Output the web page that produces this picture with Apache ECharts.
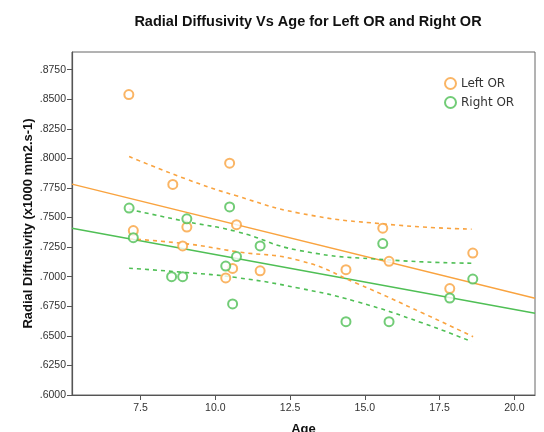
<!DOCTYPE html>
<html>
<head>
    <meta charset="utf-8">
    <script src="https://cdn.jsdelivr.net/npm/echarts@6/dist/echarts.min.js"></script>
</head>
<body style="margin:0">
<div id="main" style="width: 544px;height:432px;"></div>
<script type="text/javascript">
    // points: [age, radial diffusivity]
    var leftOR = [
        [7.11, 0.854], [7.26, 0.739], [8.58, 0.778], [8.91, 0.726], [9.05, 0.742],
        [10.35, 0.699], [10.48, 0.796], [10.58, 0.707], [10.71, 0.744], [11.50, 0.705],
        [14.37, 0.706], [15.60, 0.741], [15.81, 0.713], [17.84, 0.690], [18.61, 0.720]
    ];
    var rightOR = [
        [7.12, 0.758], [7.26, 0.733], [8.54, 0.700], [8.91, 0.700], [9.05, 0.749],
        [10.35, 0.709], [10.48, 0.759], [10.58, 0.677], [10.71, 0.717], [11.50, 0.726],
        [14.37, 0.662], [15.60, 0.728], [15.81, 0.662], [17.84, 0.682], [18.61, 0.698]
    ];

    // fit lines (ends at axis edges)
    var leftFit = [[5.21, 0.7783], [20.69, 0.6818]];
    var rightFit = [[5.21, 0.7410], [20.69, 0.6691]];

    // 95% bands (dashed)
    var leftUpper = [[7.12, 0.8016], [9.04, 0.7825], [10.71, 0.7684], [12.83, 0.7537], [15.72, 0.7444], [18.57, 0.7402]];
    var leftLower = [[7.12, 0.7320], [9.04, 0.7278], [10.71, 0.7212], [12.83, 0.7136], [14.72, 0.6945], [16.95, 0.6691], [18.62, 0.6493]];
    var rightUpper = [[7.12, 0.7570], [9.04, 0.7466], [10.71, 0.7382], [12.83, 0.7221], [15.83, 0.7142], [18.62, 0.7114]];
    var rightLower = [[7.12, 0.7072], [9.04, 0.7035], [10.71, 0.6993], [12.83, 0.6902], [14.72, 0.6790], [16.95, 0.6607], [18.57, 0.6451]];

    var xTicks = [7.5, 10.0, 12.5, 15.0, 17.5, 20.0];
    var yTicks = [0.6, 0.625, 0.65, 0.675, 0.7, 0.725, 0.75, 0.775, 0.8, 0.825, 0.85, 0.875];

    var orange = '#f9a33f';
    var green = '#4fbf55';
    var axisColor = '#555';

    function dashed(name, data, color) {
        return {
            name: name, type: 'line', data: data, smooth: true, showSymbol: false, silent: true,
            lineStyle: {color: color, width: 1.6, type: [4, 4]}, z: 1
        };
    }
    function solid(name, data, color) {
        return {
            name: name, type: 'line', data: data, showSymbol: false, silent: true,
            lineStyle: {color: color, width: 1.4}, z: 1
        };
    }

    var myChart = echarts.init(document.getElementById('main'));

    var option = {
        animation: false,
        title: {
            text: 'Radial Diffusivity Vs Age for Left OR and Right OR',
            left: 303, textAlign: 'center', top: 9,
            textStyle: {fontFamily: 'Liberation Sans', fontSize: 14.5, fontWeight: 'bold', color: '#111'}
        },
        legend: {
            data: ['Left OR', 'Right OR'],
            orient: 'vertical', left: 439, top: 72, itemGap: 6,
            itemWidth: 11, itemHeight: 11,
            textStyle: {fontFamily: 'DejaVu Sans', fontSize: 12, color: '#333'}
        },
        grid: {
            left: 72, right: 9, top: 52, bottom: 37, show: true, borderColor: '#666', borderWidth: 1,
            outerBoundsMode: 'none', containLabel: false
        },
        xAxis: {
            type: 'value', min: 5.21, max: 20.69,
            name: 'Age', nameLocation: 'middle', nameGap: 28,
            nameTextStyle: {fontFamily: 'Liberation Sans', fontSize: 13, fontWeight: 'bold', color: '#111'},
            axisLine: {lineStyle: {color: axisColor, width: 1.2}},
            axisTick: {show: true, length: 5, customValues: xTicks, lineStyle: {color: axisColor}},
            axisLabel: {
                customValues: xTicks, margin: 8, fontFamily: 'Liberation Sans', fontSize: 10.5, color: '#333',
                formatter: function (v) { return v.toFixed(1); }
            },
            splitLine: {show: false}
        },
        yAxis: {
            type: 'value', min: 0.6, max: 0.89,
            name: 'Radial Diffusivity (x1000 mm2.s-1)', nameLocation: 'middle', nameGap: 37,
            nameMoveOverlap: false,
            nameTextStyle: {fontFamily: 'Liberation Sans', fontSize: 13, fontWeight: 'bold', color: '#111'},
            axisLine: {show: true, lineStyle: {color: axisColor, width: 1.2}},
            axisTick: {show: true, length: 5, customValues: yTicks, lineStyle: {color: axisColor}},
            axisLabel: {
                customValues: yTicks, margin: 6, fontFamily: 'Liberation Sans', fontSize: 10.5, color: '#333',
                formatter: function (v) { return v.toFixed(4).replace(/^0/, ''); }
            },
            splitLine: {show: false}
        },
        series: [
            solid('Left fit', leftFit, orange),
            solid('Right fit', rightFit, green),
            dashed('Left upper', leftUpper, orange),
            dashed('Left lower', leftLower, orange),
            dashed('Right upper', rightUpper, green),
            dashed('Right lower', rightLower, green),
            {
                name: 'Left OR', type: 'scatter', data: leftOR, symbol: 'emptyCircle', symbolSize: 9,
                itemStyle: {color: orange, borderColor: orange, borderWidth: 1.3}, z: 3
            },
            {
                name: 'Right OR', type: 'scatter', data: rightOR, symbol: 'emptyCircle', symbolSize: 9,
                itemStyle: {color: green, borderColor: green, borderWidth: 1.3}, z: 3
            }
        ]
    };

    myChart.setOption(option);
</script>
</body>
</html>
